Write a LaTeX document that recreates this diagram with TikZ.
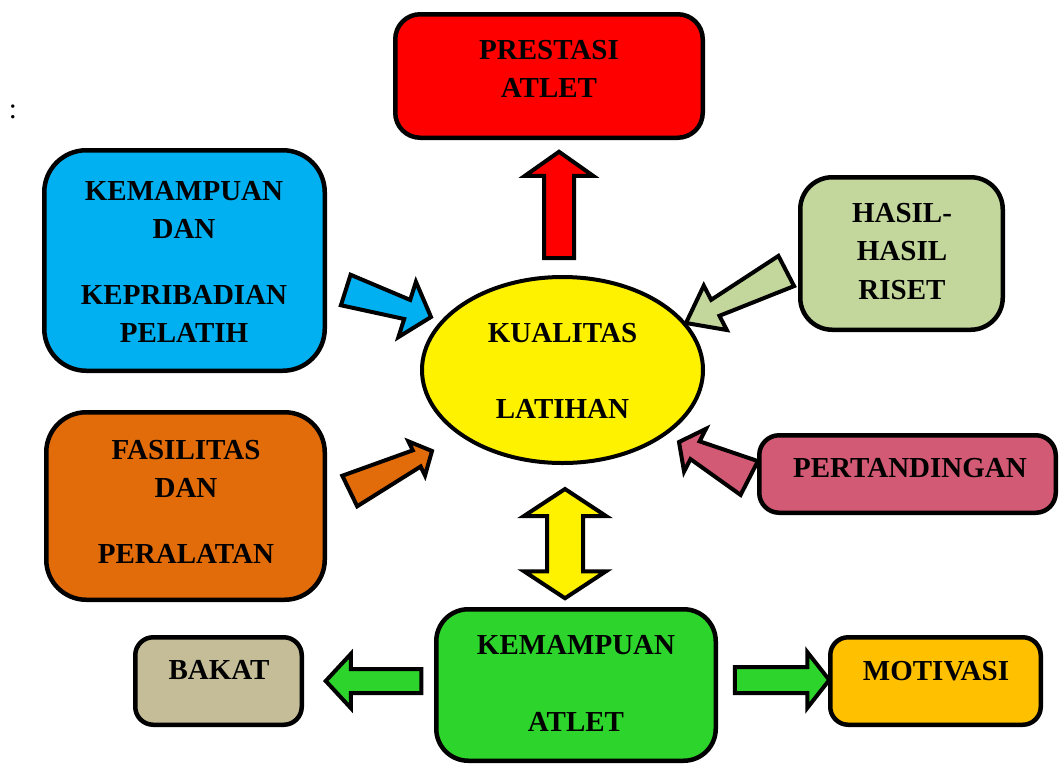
\documentclass[tikz,border=0pt]{standalone}
\usepackage{fontspec}
\setmainfont{Liberation Serif}
\usetikzlibrary{shapes.geometric,calc}

\definecolor{prestasired}{HTML}{FF0000}
\definecolor{pelatihblue}{HTML}{00B0F0}
\definecolor{risetgreen}{HTML}{C3D69B}
\definecolor{tandingpink}{HTML}{D35A74}
\definecolor{fasilorange}{HTML}{E36C0A}
\definecolor{bakattan}{HTML}{C4BD97}
\definecolor{atletgreen}{HTML}{2DD42B}
\definecolor{motigold}{HTML}{FFC000}

\tikzset{
    box/.style={draw, line width=4.5pt, outer sep=0pt, inner sep=0pt},
    word/.style={font=\fontsize{29}{38.5}\selectfont\bfseries, align=center, inner sep=0pt, anchor=north},
    arrowline/.style={draw, line width=4pt, line join=miter},
}

\newcommand{\blockarrow}[7]{%
    \path (#2) coordinate (t) (#3) coordinate (p);
    \path ($(p)!#7!(t)$) coordinate (h);
    \draw [arrowline, fill=#1] ($(t)!#4!90:(p)$) -- ($(h)!#5!90:(p)$) -- ($(h)!#6!90:(p)$) -- (p)
        -- ($(h)!#6!-90:(p)$) -- ($(h)!#5!-90:(p)$) -- ($(t)!#4!-90:(p)$) -- cycle;
}
\newcommand{\doublearrow}[6]{%
    \path (#2) coordinate (a1) (#3) coordinate (a2);
    \path ($(a1)!#6!(a2)$) coordinate (h1) ($(a2)!#6!(a1)$) coordinate (h2);
    \draw [arrowline, fill=#1] (a1) -- ($(h1)!#5!90:(a2)$) -- ($(h1)!#4!90:(a2)$) -- ($(h2)!#4!-90:(a1)$)
        -- ($(h2)!#5!-90:(a1)$) -- (a2) -- ($(h2)!#5!90:(a1)$) -- ($(h2)!#4!90:(a1)$)
        -- ($(h1)!#4!-90:(a2)$) -- ($(h1)!#5!-90:(a2)$) -- cycle;
}

\begin{document}
\begin{tikzpicture}[x=1pt, y=-1pt]
    \useasboundingbox (0, 0) rectangle (1060, 764);

    \node [box, rounded corners=25pt, fill=prestasired, minimum width=307.5pt, minimum height=123.5pt] (pres) at (549, 76) {};
    \node [box, rounded corners=42pt, fill=pelatihblue, minimum width=280.5pt, minimum height=220.5pt] (kepr) at (184.5, 260.5) {};
    \node [box, rounded corners=32pt, fill=risetgreen, minimum width=202.5pt, minimum height=152.5pt] (hasil) at (901.5, 253.5) {};
    \node [box, rounded corners=20pt, fill=tandingpink, minimum width=296.5pt, minimum height=77.5pt] (tand) at (907.5, 474) {};
    \node [box, rounded corners=40pt, fill=fasilorange, minimum width=278.5pt, minimum height=187.5pt] (fasi) at (185.5, 506) {};
    \node [box, rounded corners=18pt, fill=bakattan, minimum width=166.5pt, minimum height=87.5pt] (bakat) at (218.5, 681) {};
    \node [box, rounded corners=32pt, fill=atletgreen, minimum width=279.5pt, minimum height=151.5pt] (atlet) at (576, 685) {};
    \node [box, rounded corners=18pt, fill=motigold, minimum width=210.5pt, minimum height=87.5pt] (moti) at (935.5, 681) {};
    \node [box, ellipse, line width=4pt, fill=yellow, minimum width=281pt, minimum height=186pt] (kual) at (562.5, 370) {};

    \node [word] (presT) at (549, 40) {PRESTASI\\ATLET};
    \node [word] (keprT) at (184, 181) {KEMAMPUAN\\DAN\\[27pt]KEPRIBADIAN\\PELATIH};
    \node [word] (hasilT) at (902, 203) {HASIL-\\HASIL\\RISET};
    \node [word] (tandT) at (910, 458) {PERTANDINGAN};
    \node [word] (fasiT) at (186, 440) {FASILITAS\\DAN\\[27pt]PERALATAN};
    \node [word] (bakatT) at (219, 660) {BAKAT};
    \node [word] (atletT) at (576, 635) {KEMAMPUAN\\[38.5pt]ATLET};
    \node [word] (motiT) at (936, 661) {MOTIVASI};
    \node [word] (kualT) at (562.5, 323) {KUALITAS\\[37.5pt]LATIHAN};
    \node [font=\fontsize{29}{35}\selectfont, inner sep=0pt, anchor=base] (colon) at (13, 118) {:};

    \blockarrow{prestasired}{$(kual.north)+(-3.5,-19)$}{$(pres.south)+(10,14)$}{15pt}{15pt}{34pt}{24pt}
    \blockarrow{pelatihblue}{$(kepr.east)+(21,29.5)$}{$(kual.west)+(9,-53)$}{16pt}{10pt}{29pt}{25pt}
    \blockarrow{risetgreen}{$(hasil.west)+(-14,17.5)$}{$(kual.east)+(-17,-47)$}{17pt}{9pt}{25pt}{33pt}
    \blockarrow{tandingpink}{$(tand.west)+(-10,4)$}{$(kual.east)+(-24,72)$}{19pt}{10pt}{24pt}{18pt}
    \blockarrow{fasilorange}{$(fasi.east)+(25,-15)$}{$(kual.west)+(10,81)$}{17pt}{9pt}{19pt}{17pt}
    \doublearrow{yellow}{$(kual.south)+(2.5,26)$}{$(atlet.north)+(-11,-11)$}{18pt}{41pt}{27pt}
    \blockarrow{atletgreen}{$(atlet.west)+(-15,-4)$}{$(bakat.east)+(24,0)$}{12pt}{12pt}{27pt}{25pt}
    \blockarrow{atletgreen}{$(atlet.east)+(19,-5)$}{$(moti.west)+(-1,-1)$}{13pt}{13pt}{28pt}{22pt}
\end{tikzpicture}
\end{document}
